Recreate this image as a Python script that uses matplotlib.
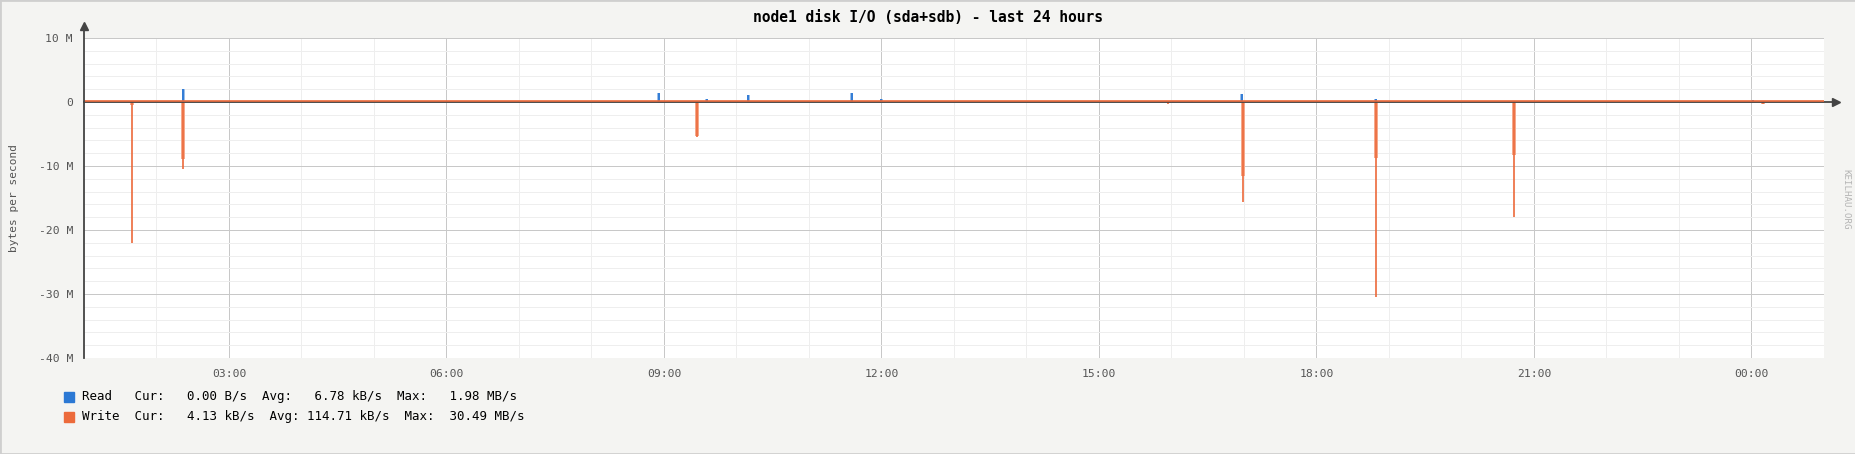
import matplotlib
matplotlib.use("Agg")
import matplotlib.pyplot as plt
from matplotlib.patches import Rectangle
import matplotlib.transforms as mtransforms

# Spike data (hours since midnight, values in MB/s)
read_times = [2.0, 2.37, 8.93, 9.59, 9.91, 10.16, 11.59, 12.0, 16.02, 16.28, 16.97, 18.82, 24.02]
read_max = [0.2, 2.1, 1.35, 0.4, 0.15, 1.1, 1.35, 0.5, 0.1, 0.1, 1.25, 0.4, 0.3]

write_times = [1.666, 2.37, 9.45, 15.95, 16.98, 18.82, 20.72, 24.16]
write_avg = [0.5, 8.9, 5.3, 0.2, 11.5, 8.8, 8.3, 0.3]
write_max = [22.0, 10.4, 5.5, 0.25, 15.6, 30.4, 17.9, 0.35]

tick_hours = [3, 6, 9, 12, 15, 18, 21, 24]
ytick_vals = [10, 0, -10, -20, -30, -40]
ytick_labels = ["10 M", "0", "-10 M", "-20 M", "-30 M", "-40 M"]

legend_lines = [
    "Read   Cur:   0.00 B/s  Avg:   6.78 kB/s  Max:   1.98 MB/s",
    "Write  Cur:   4.13 kB/s  Avg: 114.71 kB/s  Max:  30.49 MB/s",
]

BLUE = "#2b78d4"
ORANGE = "#ec6a3b"
BG = "#f4f4f2"
W, H = 1856, 454

fig = plt.figure(figsize=(W / 100, H / 100), dpi=100, facecolor=BG)
ax = fig.add_axes([84 / W, (H - 358) / H, 1740 / W, 320 / H])
ax.set_facecolor("white")
ax.set_xlim(1, 25)
ax.set_ylim(-40, 10)
for s in ax.spines.values():
    s.set_visible(False)

# grid
for h in range(1, 26):
    major = h % 3 == 0
    ax.axvline(h, color="#c8c8c8" if major else "#eeeeee", lw=0.72, zorder=0)
for v in range(-40, 11, 2):
    major = v % 10 == 0
    ax.axhline(v, color="#c8c8c8" if major else "#eeeeee", lw=0.72, zorder=0)

# write: area (avg) + line (max), drawn downward
ax.bar(write_times, [-v for v in write_avg], width=0.055, color="#f5a98c",
       zorder=2, align="center")
ax.vlines(write_times, 0, [-v for v in write_max], color=ORANGE, lw=1.2, zorder=3)

# read: upward
ax.bar(read_times, read_max, width=0.04, color="#9cbfe9", zorder=2)
ax.vlines(read_times, 0, read_max, color=BLUE, lw=1.3, zorder=3)

# axes with arrows
ax.plot([1, 25.15], [0, 0], color="#444444", lw=1.3, clip_on=False, zorder=4)
ax.plot([25.17], [0], marker=">", color="#444444", ms=6, clip_on=False, zorder=4)
up = mtransforms.offset_copy(ax.transData, fig=fig, x=0, y=1.2, units="dots")
ax.plot([1, 25], [0, 0], color=ORANGE, lw=1.2, transform=up, zorder=4)
ax.plot([1, 1], [-40, 11.6], color="#444444", lw=1.3, clip_on=False, zorder=4)
ax.plot([1], [11.9], marker="^", color="#444444", ms=6, clip_on=False, zorder=4)

ax.set_xticks(tick_hours)
ax.set_xticklabels(["%02d:00" % (h % 24) for h in tick_hours])
ax.set_yticks(ytick_vals)
ax.set_yticklabels(ytick_labels)
ax.tick_params(length=0, labelsize=8.2, labelcolor="#555555", pad=8)
for lab in ax.get_xticklabels() + ax.get_yticklabels():
    lab.set_family("DejaVu Sans Mono")

fig.text(928 / W, 1 - 17 / H, "node1 disk I/O (sda+sdb) - last 24 hours",
         ha="center", va="center", family="DejaVu Sans Mono",
         fontweight="bold", fontsize=10.5, color="black")
fig.text(14 / W, 1 - 198 / H, "bytes per second", rotation=90, ha="center",
         va="center", family="DejaVu Sans Mono", fontsize=8, color="#555555")
fig.text(1846 / W, 1 - 199 / H, "KEILHAU.ORG", rotation=270, ha="center",
         va="center", family="DejaVu Sans Mono", fontsize=6.6, color="#b4b4b4")

# legend
for i, (txt, col) in enumerate(zip(legend_lines, [BLUE, ORANGE])):
    yc = 396.5 + 20 * i
    fig.patches.append(Rectangle((64 / W, 1 - (yc + 5) / H), 10 / W, 10 / H,
                                 transform=fig.transFigure, color=col))
    fig.text(82 / W, 1 - yc / H, txt, ha="left", va="center",
             family="DejaVu Sans Mono", fontsize=9, color="black")

fig.patches.append(Rectangle((0, 0), 1, 1, transform=fig.transFigure, fill=False,
                             edgecolor="#cfcfcf", lw=2))

fig.savefig("out.png", dpi=100, facecolor=BG)
